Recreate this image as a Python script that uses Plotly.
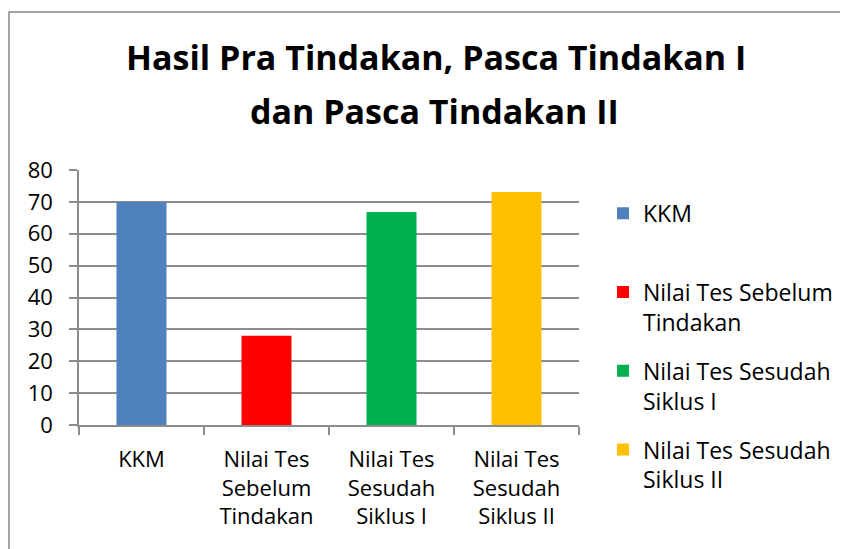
import plotly.graph_objects as go

# ---- data ----
categories = ["KKM", "Nilai Tes Sebelum Tindakan", "Nilai Tes Sesudah Siklus I", "Nilai Tes Sesudah Siklus II"]
values = [70, 28, 66.8, 73.1]
tick_labels = ["KKM", "Nilai Tes<br>Sebelum<br>Tindakan", "Nilai Tes<br>Sesudah<br>Siklus I", "Nilai Tes<br>Sesudah<br>Siklus II"]
legend_labels = ["KKM<br> ", "Nilai Tes Sebelum<br>Tindakan", "Nilai Tes Sesudah<br>Siklus I", "Nilai Tes Sesudah<br>Siklus II"]
colors = ["#4F81BD", "#FF0000", "#00B050", "#FFC000"]
title_lines = ["Hasil Pra Tindakan, Pasca Tindakan I", "dan Pasca Tindakan II"]

FONT = "Open Sans"
fig = go.Figure()
for i, cat in enumerate(categories):
    fig.add_trace(go.Bar(
        x=[cat], y=[values[i]], name=legend_labels[i],
        marker=dict(color=colors[i], line=dict(width=0)),
        width=0.4, legendgroup=f"g{i}",
    ))

fig.update_layout(
    width=848, height=549,
    margin=dict(l=71, r=277, t=162, b=132),
    paper_bgcolor="white", plot_bgcolor="white",
    barmode="overlay",
    font=dict(family=FONT, size=22, color="#000000"),
    showlegend=True,
    legend=dict(
        x=1.048, y=0.915, xanchor="left", yanchor="top",
        font=dict(family=FONT, size=23, color="#000000"),
        valign="top", tracegroupgap=16, bgcolor="rgba(0,0,0,0)",
        maxheight=800,
    ),
    xaxis=dict(
        type="category", categoryorder="array", categoryarray=categories,
        tickmode="array", tickvals=categories, ticktext=tick_labels,
        tickson="boundaries", ticks="outside", ticklen=8, tickcolor="#8C8C8C", tickwidth=1.5,
        showline=True, linecolor="#8C8C8C", linewidth=1.5,
        showgrid=False, ticklabelstandoff=14,
        tickfont=dict(family=FONT, size=22, color="#000000"),
    ),
    yaxis=dict(
        range=[0, 80], dtick=10, tick0=0,
        ticks="outside", ticklen=8, tickcolor="#8C8C8C", tickwidth=1.5,
        showline=True, linecolor="#8C8C8C", linewidth=1.5,
        showgrid=True, gridcolor="#8C8C8C", gridwidth=1.5,
        zeroline=False, ticklabelstandoff=12,
        tickfont=dict(family=FONT, size=22, color="#000000"),
    ),
    shapes=[dict(type="rect", xref="paper", yref="paper",
                 x0=-0.14, x1=1.7, y0=-0.7, y1=1.6196,
                 line=dict(color="#868686", width=1.5), fillcolor="rgba(0,0,0,0)", layer="below")],
    annotations=[
        dict(text=title_lines[0], xref="paper", yref="paper", x=0.714, y=1.445,
             xanchor="center", yanchor="middle", showarrow=False,
             font=dict(family=FONT, size=34, color="#000000", weight="bold")),
        dict(text=title_lines[1], xref="paper", yref="paper", x=0.711, y=1.232,
             xanchor="center", yanchor="middle", showarrow=False,
             font=dict(family=FONT, size=34, color="#000000", weight="bold")),
    ],
)

fig.write_html("out.html")
